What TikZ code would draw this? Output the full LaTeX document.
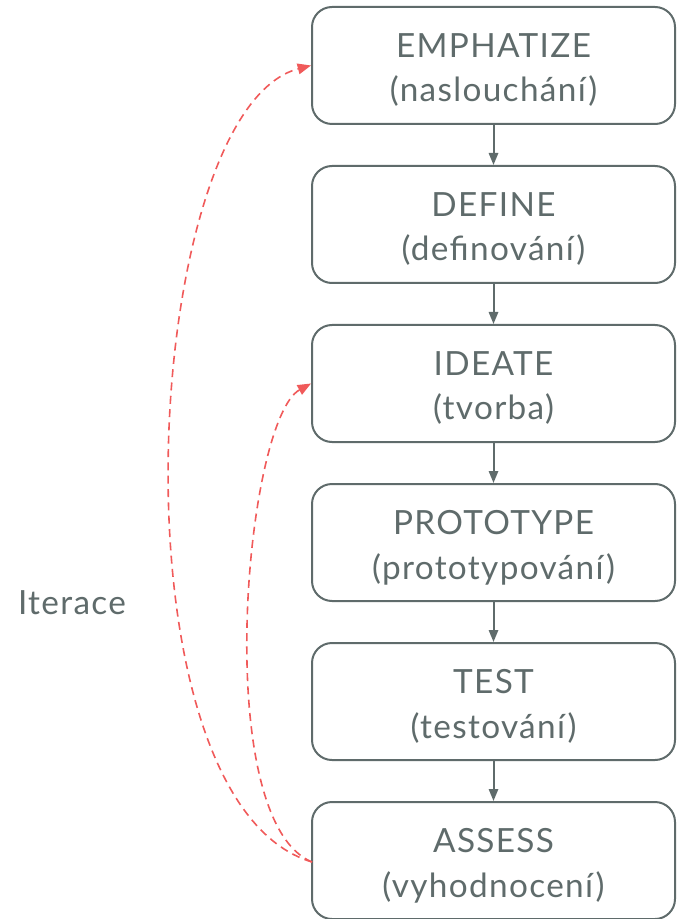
\documentclass[tikz,border=0pt]{standalone}
\usepackage{fontspec}
\setmainfont{Lato}[LetterSpace=4]
\usetikzlibrary{arrows.meta}
\definecolor{boxgray}{HTML}{5F6B6B}
\definecolor{iterred}{HTML}{F05A5A}
% two-line stage caption, lowered a little inside its box
\newcommand\stagetext[2]{\raisebox{-4pt}[\height][\depth]{\renewcommand\arraystretch{1.06}\begin{tabular}{@{}c@{}}#1\\#2\end{tabular}}}
\begin{document}
\begin{tikzpicture}[x=0.75pt,y=-0.75pt,
  stage/.style={draw=boxgray, line width=1.5pt, rounded corners=15pt,
    minimum width=363*0.75pt, minimum height=117*0.75pt, inner sep=0pt,
    text=boxgray, font=\fontsize{25}{31.5}\selectfont},
  flow/.style={draw=boxgray, line width=1.5pt, -{Triangle[length=9pt,width=7pt]}},
  iter/.style={draw=iterred, line width=1.2pt, dash pattern=on 6pt off 4pt,
    -{Triangle[length=10pt,width=8pt]}}]
\useasboundingbox (0,0) rectangle (676,919);
\node[stage] (emp) at (493.5,65.5) {\stagetext{EMPHATIZE}{(naslouchání)}};
\node[stage] (def) at (493.5,224.5) {\stagetext{DEFINE}{(definování)}};
\node[stage] (ide) at (493.5,383.5) {\stagetext{IDEATE}{(tvorba)}};
\node[stage] (pro) at (493.5,542.5) {\stagetext{PROTOTYPE}{(prototypování)}};
\node[stage] (tes) at (493.5,701.5) {\stagetext{TEST}{(testování)}};
\node[stage] (ass) at (493.5,860.5) {\stagetext{ASSESS}{(vyhodnocení)}};
\draw[flow] (emp) -- (def);
\draw[flow] (def) -- (ide);
\draw[flow] (ide) -- (pro);
\draw[flow] (pro) -- (tes);
\draw[flow] (tes) -- (ass);
\coordinate (assl) at (312,862);
\draw[iter] (assl) .. controls (105,800) and (140,110) .. (emp.west);
\draw[iter] (assl) .. controls (210,820) and (245,420) .. (ide.west);
\node[text=boxgray, font=\fontsize{25}{31.5}\selectfont] (it) at (72,603) {Iterace};
\end{tikzpicture}
\end{document}
